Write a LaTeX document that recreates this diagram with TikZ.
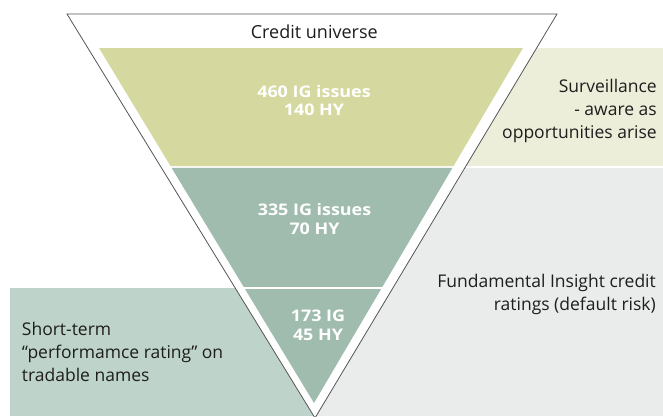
\documentclass[tikz,border=0pt]{standalone}
\usepackage{fontspec}
\setmainfont{Open Sans}
\newfontfamily\lblfont[FakeStretch=1.12]{Open Sans}
\usetikzlibrary{calc}
\definecolor{bandyel}{HTML}{D5D89F}
\definecolor{bandteal}{HTML}{A0BCAF}
\definecolor{panyel}{HTML}{EDEED9}
\definecolor{pangray}{HTML}{E9ECEA}
\definecolor{pangreen}{HTML}{BED3C9}
\definecolor{outl}{HTML}{555555}
\definecolor{txt}{HTML}{1E1E1E}
\begin{document}
\begin{tikzpicture}[x=1pt,y=-1pt,
  reglbl/.style={inner sep=0pt, text=txt, font=\fontsize{17.5}{23}\selectfont},
  boldlbl/.style={inner sep=0pt, text=white, align=center, font=\lblfont\bfseries\fontsize{16}{18.5}\selectfont}]
\useasboundingbox (0,0) rectangle (663,416);
% panels
\fill[panyel] (300,48) rectangle (663,166.3);
\fill[pangray] (315,168) rectangle (663,416);
\fill[pangreen] (10,288) rectangle (315,416);
% outer triangle
\coordinate (OL) at (67,14);
\coordinate (OR) at (557,14);
\coordinate (OA) at (315,418);
\filldraw[fill=white, draw=outl, line width=0.8pt] (OL) -- (OR) -- (OA) -- cycle;
% inner bands
\coordinate (TL) at (99,48);
\coordinate (TR) at (523,48);
\coordinate (AP) at (314,403);
\fill[bandyel] (TL) -- (TR) -- ($(TR)!0.3324!(AP)$) -- ($(TL)!0.3324!(AP)$) -- cycle;
\fill[bandteal] ($(TL)!0.338!(AP)$) -- ($(TR)!0.338!(AP)$) -- ($(TR)!0.6732!(AP)$) -- ($(TL)!0.6732!(AP)$) -- cycle;
\fill[bandteal] ($(TL)!0.6789!(AP)$) -- ($(TR)!0.6789!(AP)$) -- (AP) -- cycle;
% labels (base anchor = baseline of last line)
\node[reglbl, anchor=base, font=\fontsize{18}{22}\selectfont] (title) at (314.3,38.7) {Credit universe};
\node[boldlbl, anchor=base] (b1) at (314,115.7) {460 IG issues\\140 HY};
\node[boldlbl, anchor=base] (b2) at (314.5,234.3) {335 IG issues\\70 HY};
\node[boldlbl, anchor=base] (b3) at (318,340) {173 IG\\45 HY};
\node[reglbl, align=right, anchor=base east] (surv) at (657,138.3) {Surveillance\\- aware as\\opportunities arise};
\node[reglbl, align=right, anchor=base east] (fund) at (656,310.3) {Fundamental Insight credit\\ratings (default risk)};
\node[reglbl, align=left, anchor=base west] (short) at (21.7,381) {Short-term\\\textquotedblleft performamce rating\textquotedblright{} on\\tradable names};
\end{tikzpicture}
\end{document}
